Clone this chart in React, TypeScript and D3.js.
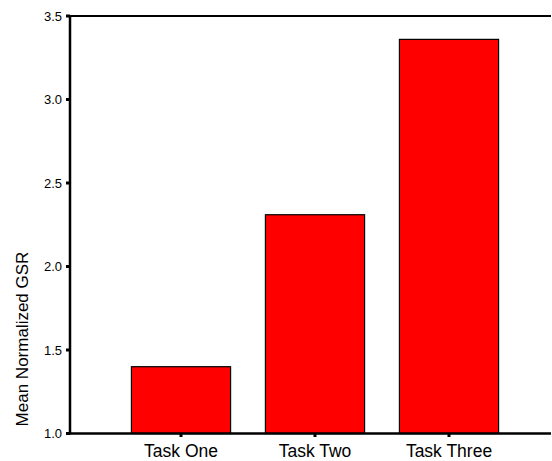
import React from "react";
import * as d3 from "d3";

const categories = ["Task One", "Task Two", "Task Three"];
const values = [1.4, 2.31, 3.36];
const yTicks = [1.0, 1.5, 2.0, 2.5, 3.0, 3.5];
const yTitle = "Mean Normalized GSR";

const W = 552;
const H = 461;
const axisLeft = 70;
const axisRight = 551;
const plotTop = 16;
const plotBottom = 433.5;

export default function App() {
  const y = d3.scaleLinear().domain([1, 3.5]).range([plotBottom, plotTop]);
  const x = d3
    .scaleBand<string>()
    .domain(categories)
    .range([114, 516])
    .paddingInner(0.26)
    .paddingOuter(0.13);
  const font = "Arial, 'Liberation Sans', Helvetica, sans-serif";
  return (
    <svg
      width={W}
      height={H}
      style={{ position: "absolute", left: 0, top: 0, background: "#fff" }}
      fontFamily={font}
    >
      {categories.map((c, i) => (
        <rect
          key={c}
          x={x(c)!}
          y={y(values[i])}
          width={x.bandwidth()}
          height={y(1) - y(values[i])}
          fill="#ff0000"
          stroke="#000"
          strokeWidth={1.2}
        />
      ))}
      {/* top frame line */}
      <line x1={axisLeft} x2={axisRight} y1={plotTop} y2={plotTop} stroke="#000" strokeWidth={2} />
      {/* y axis */}
      <line x1={axisLeft} x2={axisLeft} y1={plotTop - 1} y2={plotBottom + 1} stroke="#000" strokeWidth={2.5} />
      {/* x axis */}
      <line x1={axisLeft} x2={axisRight} y1={plotBottom} y2={plotBottom} stroke="#000" strokeWidth={2.5} />
      {yTicks.map((t) => (
        <g key={t}>
          <rect x={axisLeft - 4} y={y(t) - 1.5} width={4} height={3} fill="#000" />
          <text
            x={62}
            y={y(t)}
            dy="0.36em"
            textAnchor="end"
            fontSize={13}
            fill="#000"
          >
            {t.toFixed(1)}
          </text>
        </g>
      ))}
      {categories.map((c) => {
        const cx = x(c)! + x.bandwidth() / 2;
        return (
          <g key={c}>
            <rect x={cx - 1.5} y={plotBottom} width={3} height={3.5} fill="#000" />
            <text x={cx} y={456.5} textAnchor="middle" fontSize={17.5} fill="#000">
              {c}
            </text>
          </g>
        );
      })}
      <text
        transform={`translate(27.7, 339) rotate(-90)`}
        textAnchor="middle"
        fontSize={17}
        fill="#000"
      >
        {yTitle}
      </text>
    </svg>
  );
}
